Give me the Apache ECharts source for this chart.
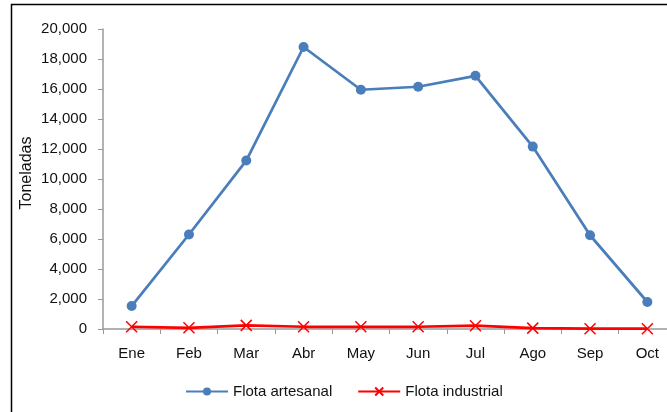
<!DOCTYPE html>
<html>
<head>
<meta charset="utf-8">
<script src="https://cdn.jsdelivr.net/npm/echarts@6/dist/echarts.min.js"></script>
<style>
  html, body { margin: 0; padding: 0; background: #fff; }
  #chart { width: 667px; height: 412px; }
</style>
</head>
<body>
<div id="chart"></div>
<script>
// Monthly landings (tonnes) by fleet
const months = ['Ene', 'Feb', 'Mar', 'Abr', 'May', 'Jun', 'Jul', 'Ago', 'Sep', 'Oct'];
const flotaArtesanal = [1530, 6300, 11230, 18800, 15950, 16150, 16880, 12160, 6250, 1800];
const flotaIndustrial = [150, 80, 240, 150, 150, 150, 220, 60, 20, 20];
const yTicks = { min: 0, max: 20000, interval: 2000 };

const font = 'Liberation Sans, Arial, sans-serif';
const chart = echarts.init(document.getElementById('chart'), null, { renderer: 'canvas' });

chart.setOption({
  backgroundColor: '#fff',
  animation: false,
  graphic: [{
    type: 'rect',
    shape: { x: 11.5, y: 4.5, width: 720, height: 440 },
    style: { fill: 'none', stroke: '#000', lineWidth: 1.5 },
    silent: true
  }],
  grid: {
    left: 103, top: 29, width: 573, height: 300,
    containLabel: false,
    outerBoundsMode: 'none'
  },
  legend: {
    top: 384,
    left: 185,
    padding: 0,
    itemWidth: 42,
    itemHeight: 10,
    itemGap: 25,
    textStyle: { fontFamily: font, fontSize: 15, color: '#111' },
    data: ['Flota artesanal', 'Flota industrial']
  },
  xAxis: {
    type: 'category',
    data: months,
    boundaryGap: true,
    axisLine: { lineStyle: { color: '#999', width: 1.5 } },
    axisTick: { show: true, length: 5, lineStyle: { color: '#999' } },
    axisLabel: { fontFamily: font, fontSize: 15, color: '#111', margin: 17 }
  },
  yAxis: {
    type: 'value',
    min: yTicks.min,
    max: yTicks.max,
    interval: yTicks.interval,
    name: 'Toneladas',
    nameLocation: 'middle',
    nameRotate: 90,
    nameGap: 68,
    nameMoveOverlap: false,
    nameTextStyle: { fontFamily: font, fontSize: 16, color: '#111', padding: [0, 0, 0, 12] },
    axisLine: { show: true, lineStyle: { color: '#999', width: 1.5 } },
    axisTick: { show: true, inside: false, length: 5, lineStyle: { color: '#999' } },
    splitLine: { show: false },
    axisLabel: {
      fontFamily: font, fontSize: 15, color: '#111', margin: 16,
      formatter: v => v.toLocaleString('en-US')
    }
  },
  series: [
    {
      name: 'Flota artesanal',
      type: 'line',
      data: flotaArtesanal,
      symbol: 'circle',
      symbolSize: 10,
      lineStyle: { color: '#4a7ebb', width: 2.75 },
      itemStyle: { color: '#4a7ebb' },
      z: 3
    },
    {
      name: 'Flota industrial',
      type: 'line',
      data: flotaIndustrial,
      symbol: 'path://M0,0L10,10M10,0L0,10',
      symbolSize: 11,
      lineStyle: { color: '#ff0000', width: 2.75 },
      itemStyle: { color: '#ff0000', borderColor: '#ff0000', borderWidth: 1.5 },
      z: 4
    }
  ]
});
</script>
</body>
</html>
